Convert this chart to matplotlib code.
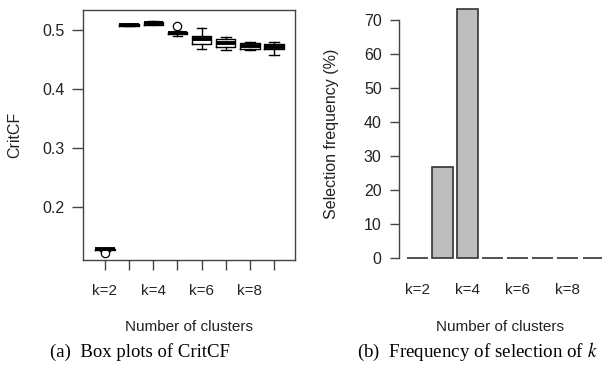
import matplotlib
matplotlib.use("Agg")
import matplotlib.pyplot as plt

# ---- data ----
clusters = ["k=2", "k=3", "k=4", "k=5", "k=6", "k=7", "k=8", "k=9"]
shown_labels = ["k=2", "", "k=4", "", "k=6", "", "k=8", ""]
box_whislo = [0.1250, 0.5060, 0.5100, 0.4893, 0.4678, 0.4661, 0.4665, 0.4576]
box_q1     = [0.1265, 0.5068, 0.5092, 0.4927, 0.4757, 0.4718, 0.4673, 0.4673]
box_med    = [0.1280, 0.5080, 0.5120, 0.4950, 0.4842, 0.4785, 0.4729, 0.4718]
box_q3     = [0.1292, 0.5095, 0.5130, 0.4966, 0.4898, 0.4853, 0.4785, 0.4763]
box_whishi = [0.1305, 0.5105, 0.5158, 0.4990, 0.5028, 0.4887, 0.4802, 0.4802]
box_fliers = [[0.1226], [], [], [0.5068], [], [], [], []]
freq = [0.0, 26.7, 73.3, 0.0, 0.0, 0.0, 0.0, 0.0]

W, H = 602, 369
fig = plt.figure(figsize=(W / 100, H / 100), dpi=100)
txt = "#222222"
plt.rcParams["font.family"] = ["Liberation Sans", "DejaVu Sans"]

def ax_rect(x0, y0, x1, y1):
    return [x0 / W, 1 - y1 / H, (x1 - x0) / W, (y1 - y0) / H]

# ---- left panel: box plots ----
ax1 = fig.add_axes(ax_rect(83, 10, 295, 260))
stats = []
for i in range(len(clusters)):
    stats.append(dict(med=box_med[i], q1=box_q1[i], q3=box_q3[i],
                      whislo=box_whislo[i], whishi=box_whishi[i],
                      fliers=box_fliers[i], label=clusters[i]))
pos = list(range(1, len(clusters) + 1))
ax1.bxp(stats, positions=pos, widths=0.8, showfliers=True,
        boxprops=dict(color="black", lw=1.0),
        medianprops=dict(color="black", lw=2.8, solid_capstyle="butt"),
        whiskerprops=dict(color="black", lw=1.0, linestyle="-"),
        capprops=dict(color="black", lw=1.0),
        capwidths=0.4,
        flierprops=dict(marker="o", markerfacecolor="white",
                        markeredgecolor="black", markersize=6, markeredgewidth=0.9))
ax1.set_xlim(0.09, 8.87)
ax1.set_ylim(0.1102, 0.5339)
ax1.set_yticks([0.2, 0.3, 0.4, 0.5])
ax1.set_yticklabels(["0.2", "0.3", "0.4", "0.5"])
ax1.set_xticks(pos)
ax1.set_xticklabels(shown_labels)
for s in ax1.spines.values():
    s.set_color("#444444")
    s.set_linewidth(1.0)
ax1.tick_params(axis="y", length=8, width=1, color="#444444", pad=5,
                labelsize=11.5, labelcolor=txt)
ax1.tick_params(axis="x", length=7, width=1, color="#444444", pad=10,
                labelsize=11, labelcolor=txt)
ax1.set_ylabel("CritCF", fontsize=11.5, color=txt)
ax1.yaxis.set_label_coords(-0.288, 0.5)

# ---- right panel: bar chart ----
ax2 = fig.add_axes(ax_rect(399, 0, 602, 268))
centers = [0.7 + 1.2 * i for i in range(len(clusters))]
ax2.bar(centers, freq, width=1.0, color="#BEBEBE", edgecolor="#333333",
        linewidth=1.2)
ax2.set_xlim(-0.183, 9.53)
ax2.set_ylim(-2.94, 75.9)
for side in ["top", "right", "bottom"]:
    ax2.spines[side].set_visible(False)
ax2.spines["left"].set_bounds(0, 70)
ax2.spines["left"].set_color("#444444")
ax2.spines["left"].set_linewidth(1.0)
ax2.set_yticks(range(0, 71, 10))
ax2.tick_params(axis="y", length=6.5, width=1, color="#444444", pad=6,
                labelsize=11.5, labelcolor=txt)
ax2.set_xticks(centers)
ax2.set_xticklabels(shown_labels)
ax2.tick_params(axis="x", length=0, pad=11, labelsize=11, labelcolor=txt)
ax2.set_ylabel("Selection frequency (%)", fontsize=11.5, color=txt)
ax2.yaxis.set_label_coords(-0.296, 0.5)

# ---- axis titles and captions ----
fig.text(189 / W, 1 - 327 / H, "Number of clusters", ha="center", va="center",
         fontsize=11, color=txt)
fig.text(500 / W, 1 - 327 / H, "Number of clusters", ha="center", va="center",
         fontsize=11, color=txt)
fig.text(140 / W, 1 - 352 / H, "(a)  Box plots of CritCF", ha="center",
         va="center", fontsize=13.5, family=["Liberation Serif"], color="black")
fig.text(477 / W, 1 - 352 / H, r"(b)  Frequency of selection of $k$",
         ha="center", va="center", fontsize=13.7, family=["Liberation Serif"],
         color="black", math_fontfamily="stix")

fig.savefig("out.png", dpi=100)
